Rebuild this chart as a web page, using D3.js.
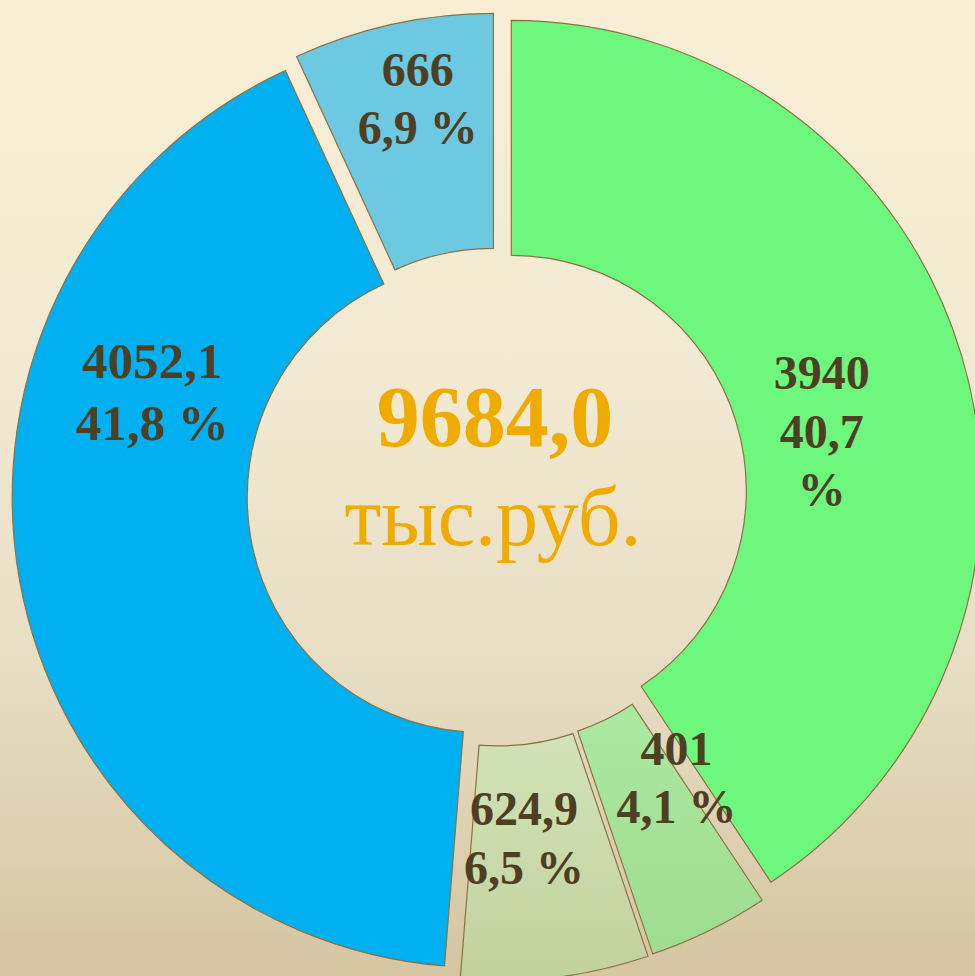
<!DOCTYPE html>
<html>
<head>
<meta charset="utf-8">
<script src="https://cdn.jsdelivr.net/npm/d3@7"></script>
<style>
  body { margin: 0; }
  svg { display: block; }
</style>
</head>
<body>
<svg id="chart" width="975" height="976"></svg>
<script>
'use strict'

// slice values, тыс.руб., clockwise from 12 o'clock
const values = [3940, 401, 624.9, 4052.1, 666]
const unitLabel = 'тыс.руб.'

// look of each slice (same order as values)
const colors = ['#6df77d', '#a6e69a', '#cadcae', '#00b0f0', '#6dc9e2']
const gradientTop = [null, '#abe9a1', '#d1e3b7', null, null]
const gradientBottom = [null, '#9edc90', '#c2d19e', null, null]
const explode = [16, 15, 16, 14, 12]
// the labels were dragged by hand in the original, nudge them off the centroid
const labelNudge = [[-27, 42], [19, -48], [-17, -23], [17, -168], [0, -41]]
const labelSize = [48, 48, 48, 51, 48]
const splitPercent = [true, false, false, false, false]

const width = 975
const height = 976
const cx = 496
const cy = 495
const innerR = 235
const outerR = 470

const svg = d3.select('#chart')
const defs = svg.append('defs')

const bg = defs.append('linearGradient')
  .attr('id', 'bg')
  .attr('x1', 0).attr('y1', 0).attr('x2', 0).attr('y2', 1)
bg.append('stop').attr('offset', '0%').attr('stop-color', '#f8eed5')
bg.append('stop').attr('offset', '40%').attr('stop-color', '#f2e9d2')
bg.append('stop').attr('offset', '70%').attr('stop-color', '#e6dcc1')
bg.append('stop').attr('offset', '100%').attr('stop-color', '#d5c5a1')

svg.append('rect')
  .attr('width', width)
  .attr('height', height)
  .attr('fill', 'url(#bg)')

values.forEach(function (v, i) {
  if (!gradientTop[i]) return
  const g = defs.append('linearGradient')
    .attr('id', 'slice' + i)
    .attr('x1', 0).attr('y1', 0).attr('x2', 0).attr('y2', 1)
  g.append('stop').attr('offset', '0%').attr('stop-color', gradientTop[i])
  g.append('stop').attr('offset', '100%').attr('stop-color', gradientBottom[i])
})

const total = d3.sum(values)
const comma = s => s.replace('.', ',')
const fmtValue = v => Number.isInteger(v) ? String(v) : comma(d3.format('.1f')(v))
const fmtPct = v => comma(d3.format('.1f')(v / total * 100))

const pie = d3.pie().sort(null).value(d => d)
const arc = d3.arc().innerRadius(innerR).outerRadius(outerR)
const arcs = pie(values)

const chart = svg.append('g')
  .attr('transform', `translate(${cx},${cy})`)

const slices = chart.selectAll('.slice')
  .data(arcs)
  .enter()
  .append('g')
    .attr('class', 'slice')
    .attr('transform', function (d, i) {
      const mid = (d.startAngle + d.endAngle) / 2
      return `translate(${Math.sin(mid) * explode[i]},${-Math.cos(mid) * explode[i]})`
    })

slices.append('path')
  .attr('d', arc)
  .attr('fill', (d, i) => gradientTop[i] ? `url(#slice${i})` : colors[i])
  .attr('stroke', '#8c7142')
  .attr('stroke-width', 1.2)

const labels = slices.append('text')
  .attr('transform', function (d, i) {
    const c = arc.centroid(d)
    return `translate(${c[0] + labelNudge[i][0]},${c[1] + labelNudge[i][1]})`
  })
  .attr('text-anchor', 'middle')
  .style('font-family', '"Liberation Serif", "Times New Roman", serif')
  .style('font-weight', 'bold')
  .style('font-size', (d, i) => labelSize[i] + 'px')
  .attr('fill', '#4e3f24')

labels.each(function (d, i) {
  const pct = fmtPct(d.value)
  const lines = splitPercent[i]
    ? [fmtValue(d.value), pct, '%']
    : [fmtValue(d.value), pct + ' %']
  const size = labelSize[i]
  const lineH = size * 1.22
  d3.select(this).selectAll('tspan')
    .data(lines)
    .enter()
    .append('tspan')
      .attr('x', 0)
      .attr('y', (t, k) => (k - (lines.length - 1) / 2) * lineH + size * 0.35)
      .text(t => t)
})

// total in the hole
chart.append('text')
  .attr('x', -1)
  .attr('y', -49)
  .attr('text-anchor', 'middle')
  .style('font-family', '"Liberation Serif", "Times New Roman", serif')
  .style('font-weight', 'bold')
  .style('font-size', '86px')
  .attr('fill', '#f0ab00')
  .text(comma(d3.format('.1f')(total)))

chart.append('text')
  .attr('x', -3)
  .attr('y', 50)
  .attr('text-anchor', 'middle')
  .style('font-family', '"Liberation Serif", "Times New Roman", serif')
  .style('font-size', '84px')
  .attr('fill', '#f0ab00')
  .text(unitLabel)
</script>
</body>
</html>
